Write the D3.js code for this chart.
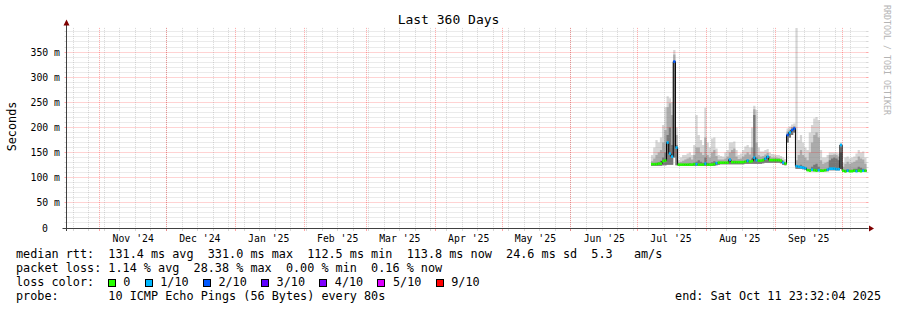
<!DOCTYPE html>
<html><head><meta charset="utf-8">
<script src="https://cdn.jsdelivr.net/npm/d3@7"></script>
<style>
html,body{margin:0;padding:0;background:#fff;}
svg{display:block;font-family:"DejaVu Sans Mono",monospace;}
text.pre{white-space:pre;}
</style></head><body>
<svg id="c" width="897" height="310"></svg>
<script>
// ---------------- data ----------------
const title = "Last 360 Days";
const yAxisLabel = "Seconds";
const watermark = "RRDTOOL / TOBI OETIKER";
const startTime = "2024-10-16T23:32:04Z";
const endTime = "2025-10-11T23:32:04Z";
const firstDay = "2025-07-07T00:00:00Z";   // first daily sample
const yDomainMax = 398;
const yMajorTicks = [0, 50, 100, 150, 200, 250, 300, 350];
const yTickLabels = ["0", "50 m", "100 m", "150 m", "200 m", "250 m", "300 m", "350 m"];
const monthStarts = ["2024-11-01","2024-12-01","2025-01-01","2025-02-01","2025-03-01","2025-04-01","2025-05-01","2025-06-01","2025-07-01","2025-08-01","2025-09-01","2025-10-01"];
const monthLabels = ["Nov '24","Dec '24","Jan '25","Feb '25","Mar '25","Apr '25","May '25","Jun '25","Jul '25","Aug '25","Sep '25"];
const monthLabelDates = ["2024-11-16","2024-12-16","2025-01-16","2025-02-16","2025-03-16","2025-04-16","2025-05-16","2025-06-16","2025-07-16","2025-08-16","2025-09-16"];

// median rtt per day (ms)
const medianRtt = [
 127,127,127,128,128,133,134,170,148,142,
 331,160,126,126,126,126,126,126,126,127,
 127,126,126,126,128,126,126,126,127,129,
 130,130,130,130,130,136,131,131,131,131,
 131,131,132,134,132,133,140,135,134,134,
 135,138,142,135,135,135,135,135,134,130,
 128,185,190,195,198,123,122,121,120,119,
 115,114,116,115,114,115,114,114,115,116,
 118,118,118,117,117,165,114,112.5,114,113,
 113,114,113,114,113,114,113.8];
// lost pings out of 10
const lossCount = [
 0,0,0,0,0,0,0,1,1,1,
 2,1,0,0,0,0,0,0,0,0,
 1,0,0,0,1,0,0,0,0,1,
 0,0,0,0,0,1,0,0,0,0,
 0,0,0,1,0,0,1,1,0,0,
 0,1,1,0,0,0,0,0,0,1,
 0,2,1,2,2,1,1,1,1,1,
 0,0,1,0,0,1,0,0,0,1,
 1,1,1,1,1,1,0,0,1,0,
 0,0,1,0,0,1,0];
// smoke: lowest ping, inner band top, upper band top, highest ping (ms)
const pingMin = [
 124,124,124,124,124,125,125,126,126,126,
 140,125,124,124,124,124,124,124,124,124,
 124,124,124,124,124,124,124,124,124,125,
 126,127,127,127,127,127,127,127,127,127,
 127,127,128,128,128,128,128,128,128,128,
 129,130,130,130,130,130,130,130,129,126,
 125,170,180,185,190,118,118,118,117,116,
 115,114,113,113,113,113,113,113,113,113,
 115,115,115,115,115,118,112,112,112,112,
 112,112,112,112,112,112,112];
const pingInner = [
 127,128,130,131,134,140,150,185,200,165,
 331,165,127,127,128,128,128,129,128,130,
 132,135,132,130,140,130,129,131,133,131,
 131,131,131,131,132,138,133,134,132,131,
 131,132,134,136,134,138,225,140,135,135,
 136,139,143,136,136,136,136,136,134,131,
 129,186,191,196,199,124,124,126,123,121,
 117,118,122,126,128,122,117,116,117,118,
 135,138,140,138,135,150,115,116,117,116,
 116,118,118,122,120,118,116];
const pingUpper = [
 133,138,145,150,155,170,195,240,248,225,
 345,185,130,132,134,136,138,140,136,145,
 160,160,150,145,180,145,140,150,155,143,
 136,136,136,138,142,150,155,158,142,137,
 138,142,146,150,146,160,236,170,145,142,
 143,146,149,143,140,140,140,139,138,135,
 132,192,196,201,203,135,145,155,145,140,
 135,150,170,185,190,180,135,128,130,132,
 145,145,146,145,142,160,122,128,132,128,
 130,132,135,142,138,136,128];
const pingMax = [
 145,160,175,170,180,205,240,262,258,250,
 354,200,135,140,145,145,148,150,145,165,
 225,185,175,165,239,170,160,178,180,158,
 145,143,142,150,155,170,170,172,155,145,
 148,155,162,165,160,200,243,235,160,152,
 152,155,157,150,147,146,145,145,143,140,
 137,198,202,206,208,398,175,185,170,160,
 155,190,205,218,221,215,155,140,140,145,
 150,150,150,150,148,170,130,140,142,138,
 140,142,148,155,150,152,140];

const lossLegend = ["0","1/10","2/10","3/10","4/10","5/10","9/10"];
const lossColors = ["#26ff00","#00b8ff","#0059ff","#5e00ff","#7e00ff","#dd00ff","#ff0000"];
const lossThresholds = [0,1,2,3,4,5,9];

const legendMedian = "median rtt:  131.4 ms avg  331.0 ms max  112.5 ms min  113.8 ms now  24.6 ms sd  5.3   am/s";
const legendLoss = "packet loss: 1.14 % avg  28.38 % max  0.00 % min  0.16 % now";
const legendLossColor = "loss color:";
const legendProbe = "probe:       10 ICMP Echo Pings (56 Bytes) every 80s";
const legendEnd = "end: Sat Oct 11 23:32:04 2025";

// ---------------- drawing ----------------
const svg = d3.select("#c");
const P = {left:66.5, right:866.5, top:27.9, bottom:228};
const x = d3.scaleUtc().domain([new Date(startTime), new Date(endTime)]).range([P.left, P.right]);
const y = d3.scaleLinear().domain([0, yDomainMax]).range([P.bottom, P.top]);
const crisp = v => Math.floor(v) + 0.5;

svg.append("rect").attr("width",897).attr("height",310).attr("fill","#fff");

// daily records
const t0 = new Date(firstDay);
const rows = medianRtt.map((m,i)=>({
  t: d3.utcDay.offset(t0, i), t1: d3.utcDay.offset(t0, i+1),
  med:m, loss:lossCount[i], lo:pingMin[i], inn:pingInner[i], up:pingUpper[i], hi:pingMax[i]
}));
const last = rows[rows.length-1];
const stepRows = rows.concat([{...last, t:new Date(endTime)}]);

// smoke
const gSmoke = svg.append("g");
[["hi","#d6d6d6"],["up","#ababab"],["inn","#777777"]].forEach(([k,c])=>{
  gSmoke.append("path").datum(stepRows)
    .attr("fill",c)
    .attr("d", d3.area().curve(d3.curveStepAfter)
      .x(d=>x(d.t)).y0(d=>y(d.lo)).y1(d=>y(d[k])));
});

// grid
const gGrid = svg.append("g");
const minorColor = "rgba(140,140,140,0.35)";
const majorColor = "rgba(255,0,0,0.35)";
function hline(v, col){
  const yy = crisp(y(v));
  gGrid.append("line").attr("x1",P.left+1).attr("x2",P.right).attr("y1",yy).attr("y2",yy)
    .attr("stroke",col).attr("stroke-dasharray","1,1");
  gGrid.append("line").attr("x1",P.left-2).attr("x2",P.left).attr("y1",yy).attr("y2",yy).attr("stroke",col);
  gGrid.append("line").attr("x1",P.right).attr("x2",P.right+2).attr("y1",yy).attr("y2",yy).attr("stroke",col);
}
function vline(t, col){
  const xx = crisp(x(t));
  gGrid.append("line").attr("x1",xx).attr("x2",xx).attr("y1",P.top).attr("y2",P.bottom)
    .attr("stroke",col).attr("stroke-dasharray","1,1");
  gGrid.append("line").attr("x1",xx).attr("x2",xx).attr("y1",P.bottom).attr("y2",P.bottom+3).attr("stroke",col);
}
d3.range(10, yDomainMax, 10).filter(v=>v%50!==0).forEach(v=>hline(v, minorColor));
yMajorTicks.filter(v=>v>0).forEach(v=>hline(v, majorColor));
d3.utcSunday.range(new Date(startTime), new Date(endTime)).forEach(t=>vline(t, minorColor));
monthStarts.forEach(s=>vline(new Date(s+"T00:00:00Z"), majorColor));

// median: black step line + loss coloured segments
svg.append("path").datum(stepRows)
  .attr("fill","none").attr("stroke","#000").attr("stroke-width",1)
  .attr("d", d3.line().curve(d3.curveStepAfter).x(d=>x(d.t)).y(d=>y(d.med)));
const lossColor = n => { let c = lossColors[0]; lossThresholds.forEach((th,i)=>{ if(n>=th) c = lossColors[i]; }); return c; };
svg.append("g").selectAll("line").data(rows).join("line")
  .attr("x1",d=>x(d.t)).attr("x2",d=>Math.min(x(d.t1), P.right))
  .attr("y1",d=>y(d.med)).attr("y2",d=>y(d.med))
  .attr("stroke",d=>lossColor(d.loss)).attr("stroke-width",2.6);

// axes
const axisColor = "#404040";
svg.append("line").attr("x1",P.left-4).attr("x2",P.right+2).attr("y1",P.bottom+0.5).attr("y2",P.bottom+0.5).attr("stroke",axisColor);
svg.append("line").attr("x1",P.left).attr("x2",P.left).attr("y1",P.top-3).attr("y2",P.bottom+3).attr("stroke",axisColor);
svg.append("path").attr("fill","#7f0000")
  .attr("d",`M${P.left},19.5 L${P.left-3},25.5 L${P.left+3},25.5 Z`);
svg.append("path").attr("fill","#7f0000")
  .attr("d",`M${P.right+7.5},${P.bottom+0.5} L${P.right+2.5},${P.bottom-2.5} L${P.right+2.5},${P.bottom+3.5} Z`);

// y tick labels
svg.append("g").selectAll("text").data(yMajorTicks).join("text")
  .attr("x",(d,i)=> yTickLabels[i].indexOf(" ")<0 ? 48 : 60)
  .attr("y",d=>y(d)+3.6)
  .attr("text-anchor","end").attr("font-size","9.8px").attr("fill","#000")
  .text((d,i)=>yTickLabels[i]);
// x labels
svg.append("g").selectAll("text").data(monthLabels).join("text")
  .attr("x",(d,i)=>x(new Date(monthLabelDates[i]+"T00:00:00Z")))
  .attr("y",242).attr("text-anchor","middle").attr("font-size","9.8px").attr("fill","#000")
  .text(d=>d);

// title, y label, watermark
svg.append("text").attr("x",448.5).attr("y",24).attr("text-anchor","middle")
  .attr("font-size","13px").attr("fill","#000").text(title);
svg.append("text").attr("transform","translate(15.5,126.5) rotate(-90)").attr("text-anchor","middle")
  .attr("font-size","11.8px").attr("fill","#000").text(yAxisLabel);
svg.append("text").attr("transform","translate(884,5) rotate(90)")
  .attr("font-size","9.5px").attr("fill","#b4b4b4")
  .attr("textLength",110).attr("lengthAdjust","spacingAndGlyphs").text(watermark);

// legend
const LF = "11.8px", CW = 7.1, LX = 16;
const leg = svg.append("g").attr("font-size",LF).attr("fill","#000");
function ltext(xx, yy, s, anchor){
  return leg.append("text").attr("class","pre").attr("xml:space","preserve")
    .attr("x",xx).attr("y",yy).attr("text-anchor",anchor||"start").text(s);
}
ltext(LX, 258, legendMedian);
ltext(LX, 272, legendLoss);
ltext(LX, 286, legendLossColor);
ltext(LX, 300, legendProbe);
ltext(881, 300, legendEnd, "end");
let cx = LX + 13*CW;
lossLegend.forEach((lab,i)=>{
  const bx = Math.floor(cx)+0.5;
  leg.append("rect").attr("x",bx).attr("y",279.5).attr("width",7).attr("height",7)
    .attr("fill",lossColors[i]).attr("stroke","#000").attr("stroke-width",1);
  ltext(cx+15, 286, lab);
  cx += 15 + lab.length*CW + 14.8;
});
</script>
</body></html>
